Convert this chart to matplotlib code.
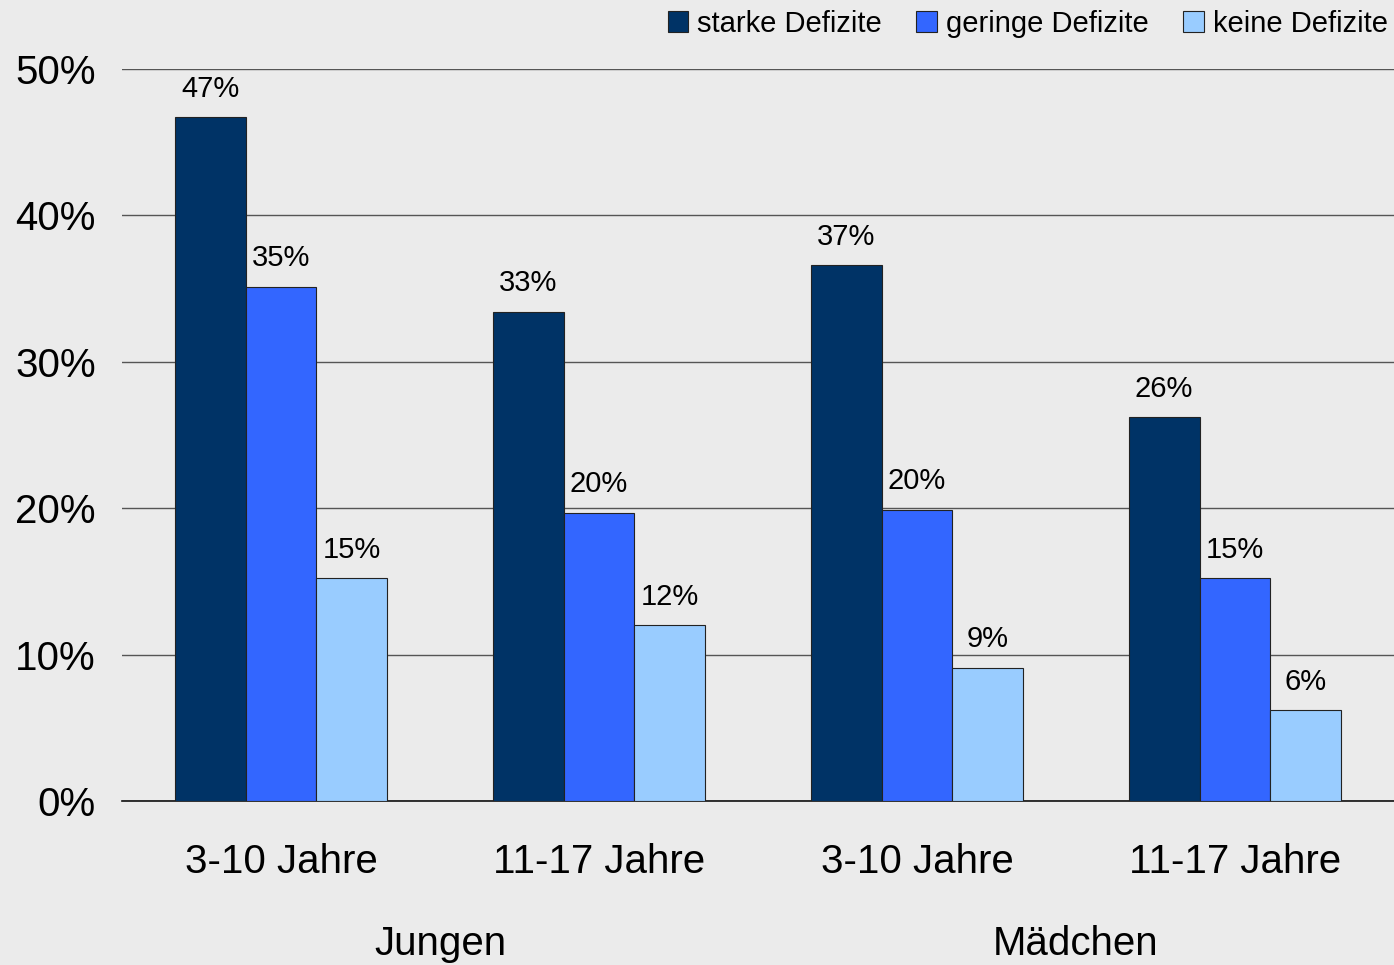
import matplotlib
matplotlib.use("Agg")
import matplotlib.pyplot as plt
import numpy as np

plt.rcParams['font.family'] = ['Liberation Sans', 'DejaVu Sans']

categories = ["3-10 Jahre", "11-17 Jahre", "3-10 Jahre", "11-17 Jahre"]
groups = ["Jungen", "Mädchen"]
series_names = ["starke Defizite", "geringe Defizite", "keine Defizite"]
starke = [46.7, 33.4, 36.6, 26.2]
geringe = [35.1, 19.7, 19.9, 15.2]
keine = [15.2, 12.0, 9.1, 6.2]
yticks = [0, 10, 20, 30, 40, 50]
ytick_labels = ["0%", "10%", "20%", "30%", "40%", "50%"]
colors = ["#003366", "#3366ff", "#99ccff"]

bg = "#ebebeb"
fig = plt.figure(figsize=(13.94, 9.65), dpi=100, facecolor=bg)
ax = fig.add_axes([122/1394, 1-801/965, (1394-122)/1394, (801-69)/965], facecolor=bg)

x = np.arange(len(categories))
w = 0.223
for i, (vals, col, name) in enumerate(zip([starke, geringe, keine], colors, series_names)):
    pos = x + (i - 1) * w
    ax.bar(pos, vals, width=w, color=col, edgecolor="#222222", linewidth=0.8, label=name, zorder=3)
    for p, v in zip(pos, vals):
        ax.text(p, v + 1.0, f"{v:.0f}%", ha="center", va="bottom", fontsize=21, zorder=4)

ax.set_xlim(-0.5, 3.5)
ax.set_ylim(0, 50)
ax.set_yticks(yticks)
ax.set_yticklabels(ytick_labels, fontsize=29)
ax.yaxis.grid(True, color="#555555", linewidth=1, zorder=0)
ax.tick_params(axis='y', length=0, pad=19)
ax.tick_params(axis='x', length=0, pad=30)
ax.set_xticks(x)
ax.set_xticklabels(categories, fontsize=29)
for s in ["top", "right", "left"]:
    ax.spines[s].set_visible(False)
ax.spines["bottom"].set_color("#111111")
ax.spines["bottom"].set_linewidth(1.2)

for gi, g in enumerate(groups):
    xc = (x[2*gi] + x[2*gi+1]) / 2
    ax.text(xc, -9.8, g, ha="center", va="center", fontsize=29,
            transform=ax.transData, clip_on=False)

leg = fig.legend(loc="upper right", bbox_to_anchor=(1.0 + 11/1394, 1.0 + 8/965), ncol=3, frameon=False,
                 fontsize=21, handlelength=0.7, handleheight=0.7, handletextpad=0.3,
                 columnspacing=1.2, borderaxespad=0.2)

fig.savefig("out.png", dpi=100, facecolor=bg)
